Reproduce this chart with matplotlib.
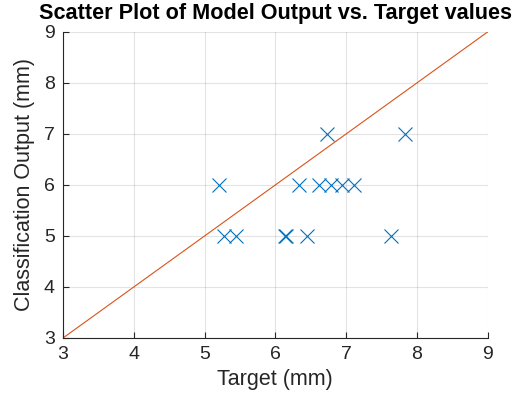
import numpy as np
import matplotlib
matplotlib.use('Agg')
import matplotlib.pyplot as plt

# Target vs classification output
target = [5.21, 5.27, 5.45, 6.14, 6.15, 6.34, 6.45, 6.62, 6.73, 6.79, 6.95, 7.11, 7.64, 7.84]
output = [6, 5, 5, 5, 5, 6, 5, 6, 7, 6, 6, 6, 5, 7]

# ideal line y = x
ideal = [3, 9]

plt.rcParams['font.family'] = ['Liberation Sans', 'DejaVu Sans']

fig = plt.figure(figsize=(5.22, 4.03), dpi=100)
ax = fig.add_axes([0.1207, 0.1613, 0.8133, 0.7593])

ax.plot(ideal, ideal, color='#D95319', linewidth=0.8)
ax.plot(target, output, 'x', color='#0072BD', markersize=10, markeredgewidth=0.8)

ax.set_xlim(3, 9)
ax.set_ylim(3, 9)
ax.set_xticks(range(3, 10))
ax.set_yticks(range(3, 10))
ax.grid(True, color='#262626', alpha=0.12, linewidth=0.8)
ax.set_axisbelow(True)
for s in ['top', 'right']:
    ax.spines[s].set_visible(False)
for s in ['left', 'bottom']:
    ax.spines[s].set_color('#262626')
    ax.spines[s].set_linewidth(0.8)
ax.tick_params(direction='in', length=4, width=0.8, colors='#262626', labelsize=14, pad=6)

ax.set_xlabel('Target (mm)', fontsize=15.5, color='#262626', labelpad=4)
ax.set_ylabel('Classification Output (mm)', fontsize=15.5, color='#262626', labelpad=6)
ax.set_title('Scatter Plot of Model Output vs. Target values', fontsize=15.6, fontweight='bold', pad=9)

fig.savefig('out.png', dpi=100)
